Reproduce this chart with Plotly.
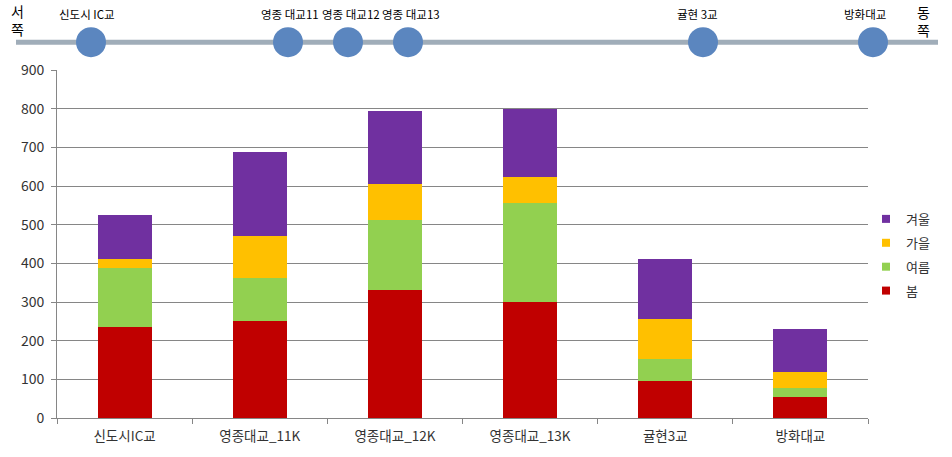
import plotly.graph_objects as go

categories = ["신도시IC교", "영종대교_11K", "영종대교_12K", "영종대교_13K", "귤현3교", "방화대교"]
spring = [236, 252, 332, 299, 95, 54]
summer = [153, 110, 181, 257, 57, 24]
autumn = [22, 109, 92, 67, 105, 40]
winter = [114, 216, 188, 177, 154, 111]

series = [("봄", spring, "#c00000"), ("여름", summer, "#92d050"),
          ("가을", autumn, "#ffc000"), ("겨울", winter, "#7030a0")]

stations = ["신도시 IC교", "영종 대교11", "영종 대교12", "영종 대교13", "귤현 3교", "방화대교"]
station_px = [91, 288, 348, 408, 703, 873]
label_px = [87, 290, 351, 411, 697, 865]

W, H = 952, 457
ML, MR, MT, MB = 57, 84, 70, 37
PW, PH = W - ML - MR, H - MT - MB

def px(x):
    return (x - ML) / PW

def py(y):
    return (H - MB - y) / PH

FONT = "Noto Sans CJK KR"

fig = go.Figure()
for name, vals, color in series:
    fig.add_trace(go.Bar(x=categories, y=vals, name=name, marker_color=color,
                         marker_line_width=0, showlegend=False))
# legend entries (small square swatches, top = 겨울 as in the original)
for name, vals, color in reversed(series):
    fig.add_trace(go.Scatter(x=[None], y=[None], mode="markers", name=name,
                             legendgroup=name,
                             marker=dict(symbol="square", size=8, color=color)))

shapes = [dict(type="line", xref="paper", yref="paper", x0=px(16), x1=px(938),
               y0=py(42), y1=py(42), line=dict(color="#a0adb9", width=5))]
for sx in station_px:
    shapes.append(dict(type="circle", xref="paper", yref="paper",
                       xsizemode="pixel", ysizemode="pixel",
                       xanchor=px(sx), yanchor=py(42),
                       x0=-15, x1=15, y0=-15, y1=15,
                       fillcolor="#5b86bf", line=dict(color="#5b86bf", width=0)))

annotations = []
for name, lx in zip(stations, label_px):
    annotations.append(dict(text=name, xref="paper", yref="paper", x=px(lx), y=py(14),
                            showarrow=False, xanchor="center", yanchor="middle",
                            font=dict(family=FONT, size=11.5, color="#000000")))
annotations.append(dict(text="서<br>쪽", xref="paper", yref="paper", x=px(17), y=py(20),
                        showarrow=False, xanchor="center", yanchor="middle",
                        font=dict(family=FONT, size=14, color="#000000")))
annotations.append(dict(text="동<br>쪽", xref="paper", yref="paper", x=px(923), y=py(21),
                        showarrow=False, xanchor="center", yanchor="middle",
                        font=dict(family=FONT, size=14, color="#000000")))

fig.update_layout(
    width=W, height=H,
    margin=dict(l=ML, r=MR, t=MT, b=MB),
    barmode="stack", bargap=0.6,
    paper_bgcolor="white", plot_bgcolor="white",
    font=dict(family=FONT, size=13, color="#333333"),
    shapes=shapes, annotations=annotations,
    legend=dict(x=px(866), y=py(256), xanchor="left", yanchor="middle",
                traceorder="grouped", tracegroupgap=4,
                font=dict(size=13, color="#333333"),
                bgcolor="rgba(0,0,0,0)"),
    xaxis=dict(showline=True, linecolor="#868686", linewidth=1,
               ticks="outside", tickson="boundaries", ticklen=5, tickcolor="#868686",
               showgrid=False, ticklabelstandoff=6,
               tickfont=dict(size=13.5, color="#333333")),
    yaxis=dict(range=[0, 900], dtick=100, showline=True, linecolor="#868686",
               linewidth=1, gridcolor="#868686", gridwidth=1, ticks="outside",
               ticklen=5, tickcolor="#868686", zeroline=False, ticklabelstandoff=4,
               tickfont=dict(size=14, color="#333333")),
)

fig.write_html("out.html")
